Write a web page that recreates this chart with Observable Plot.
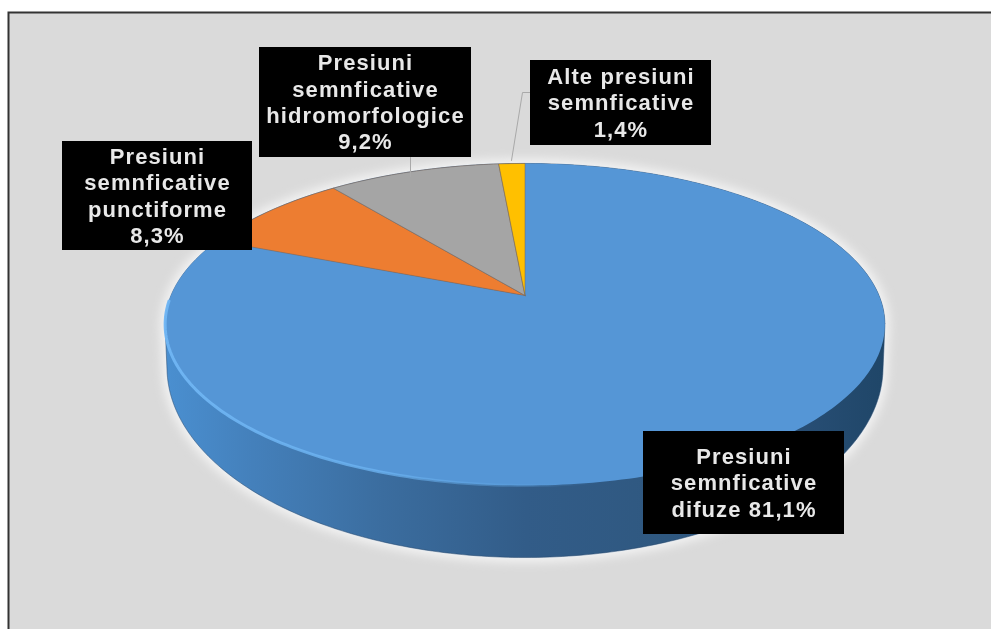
<!DOCTYPE html>
<html><head><meta charset="utf-8">
<script src="https://cdn.jsdelivr.net/npm/d3@7"></script>
<script src="https://cdn.jsdelivr.net/npm/@observablehq/plot@0.6"></script>
<style>html,body{margin:0;background:#fff}svg{display:block;filter:blur(0.5px)}</style>
</head><body><div id="chart"></div>
<script>
// Data
const names = ["Presiuni semnficative difuze","Presiuni semnficative punctiforme","Presiuni semnficative hidromorfologice","Alte presiuni semnficative"];
const values = [81.1, 8.3, 9.2, 1.4];
const colors = ["#5596d6","#ed7d31","#a5a5a5","#ffc000"];
const labelLines = [
  ["Presiuni","semnficative","difuze 81,1%"],
  ["Presiuni","semnficative","punctiforme","8,3%"],
  ["Presiuni","semnficative","hidromorfologice","9,2%"],
  ["Alte presiuni","semnficative","1,4%"]
];

// Layout (pixels), converted through the inverse of the scales below
const W = 991, H = 629, CX = 524.5, CY = 295, RX = 354, RY = 155.8, K = 0.18;
const BASE = {rx:358, ry:190, cy:367};
const ux = p => (p - CX) / RX, uy = p => (CY - p) / RY;
const boxes = [
  {x1:643,x2:844,y1:431,y2:534},
  {x1:62,x2:252,y1:141,y2:250},
  {x1:259,x2:471,y1:47,y2:157},
  {x1:530,x2:711,y1:60,y2:145}
];
const leaders = [
  [[410,157],[410,176]],
  [[530,92],[522,92],[511,160]]
];

// Perspective tilt of the unit circle
const rim = deg => {
  const a = deg * Math.PI / 180, d = 1 + K * Math.cos(a);
  return {x: Math.sin(a) / d, y: Math.cos(a) / d};
};
const arc = (a0, a1) => {
  const n = Math.max(2, Math.ceil(Math.abs(a1 - a0))), pts = [];
  for (let i = 0; i <= n; i++) pts.push(rim(a0 + (a1 - a0) * i / n));
  return pts;
};
const total = d3.sum(values);
let acc = 0;
const slices = values.map((v, i) => {
  const a0 = acc / total * 360; acc += v; const a1 = acc / total * 360;
  return {name: names[i], color: colors[i], pts: [{x:0,y:0}, ...arc(a0, a1), {x:0,y:0}]};
});
// extrusion: hull of the top rim and the (wider-looking) base rim
const full = arc(0, 360);
const base = d3.range(0, 361, 1).map(d => {
  const a = d * Math.PI / 180;
  return {x: ux(CX + BASE.rx * Math.sin(a)), y: uy(BASE.cy + BASE.ry * Math.cos(a))};
});
const hull = d3.polygonHull([...full, ...base].map(p => [p.x,p.y])).map(p => ({x:p[0],y:p[1]}));
hull.push(hull[0]);
const front = arc(120, 268);

const defs = () => {
  const s = d3.create("svg:defs");
  const g = s.append("linearGradient").attr("id","side").attr("gradientUnits","userSpaceOnUse")
    .attr("x1",166).attr("x2",885).attr("y1",0).attr("y2",0);
  [[0,"#4a8fd0"],[0.12,"#4480bb"],[0.3,"#3b6d9f"],[0.5,"#325c88"],[0.7,"#2f5880"],[0.85,"#2a5078"],[1,"#1f4668"]]
    .forEach(([o,c]) => g.append("stop").attr("offset",o).attr("stop-color",c));
  const h = s.append("linearGradient").attr("id","edge").attr("gradientUnits","userSpaceOnUse")
    .attr("x1",166).attr("x2",885).attr("y1",0).attr("y2",0);
  [[0,"#70b6f4",0.95],[0.3,"#6db4f2",0.75],[0.5,"#5fa3e0",0.3],[0.6,"#5596d6",0],[1,"#5596d6",0]]
    .forEach(([o,c,a]) => h.append("stop").attr("offset",o).attr("stop-color",c).attr("stop-opacity",a));
  const f = s.append("filter").attr("id","blur").attr("x","-10%").attr("y","-10%").attr("width","120%").attr("height","120%");
  f.append("feGaussianBlur").attr("stdDeviation",5);
  return s.node();
};

const poly = (pts, o) => Plot.line(pts, {x:"x", y:"y", ...o});

const chart = Plot.plot({
  width: W, height: H, margin: 0,
  style: {background:"#fff", overflow:"hidden"},
  x: {domain:[ux(0),ux(W)], range:[0,W], axis:null},
  y: {domain:[uy(H),uy(0)], range:[H,0], axis:null},
  marks: [
    defs,
    Plot.frame({fill:"#dadada", stroke:"#333", strokeWidth:2, insetLeft:8, insetTop:12, insetRight:-3, insetBottom:-3}),
    poly(hull, {fill:"#f2f2f2", stroke:"#f2f2f2", strokeWidth:10}),
    poly(hull, {fill:"#f0f0f0", stroke:"#e9edf1", strokeWidth:2.5}),
    poly(hull, {fill:"url(#side)", stroke:"#25466a", strokeWidth:1, strokeOpacity:0.5}),
    ...slices.map(s => poly(s.pts, {fill:s.color, stroke:s.color === "#5596d6" ? "none" : "#7d6a5c", strokeWidth:1, strokeOpacity:0.55})),
    poly(front, {stroke:"url(#edge)", strokeWidth:3}),
    ...leaders.map(l => poly(l.map(p => ({x:ux(p[0]), y:uy(p[1])})), {stroke:"#a9a9a9", strokeWidth:1})),
    Plot.rect(boxes, {x1:d=>ux(d.x1), x2:d=>ux(d.x2), y1:d=>uy(d.y1), y2:d=>uy(d.y2), fill:"#000"}),
    ...labelLines.map((lines,i) => Plot.text([lines.join("\n")], {
      x: ux((boxes[i].x1+boxes[i].x2)/2),
      y: uy((boxes[i].y1+boxes[i].y2)/2),
      text: d=>d, fill:"#e8e8e8", fontWeight:"bold", fontFamily:"Liberation Sans, Arial, sans-serif",
      fontSize:22, lineHeight:1.195, textAnchor:"middle", dy:-1
    }))
  ]
});
d3.select(chart).selectAll('g[stroke-width="10"] path').attr("filter","url(#blur)");
d3.select(chart).selectAll("text").style("letter-spacing","1.1px");
document.getElementById("chart").append(chart);
</script></body></html>
